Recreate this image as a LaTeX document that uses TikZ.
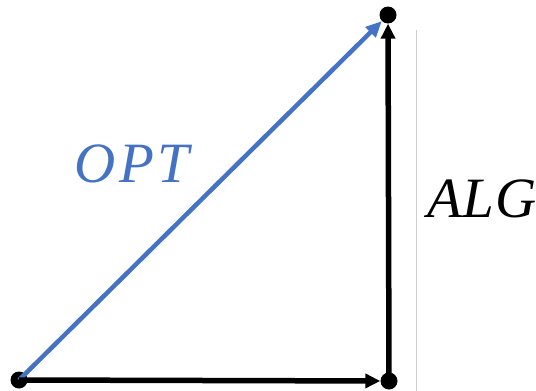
\documentclass[tikz,border=0pt]{standalone}
\usepackage{fontspec}
\setmainfont{Liberation Serif}
\usetikzlibrary{arrows.meta}
\definecolor{optblue}{HTML}{4472C4}
\definecolor{rulegray}{HTML}{D0D0D0}
\begin{document}
\begin{tikzpicture}[x=1pt,y=-1pt,
  dot/.style={circle,fill=black,inner sep=0pt,minimum size=17pt},
  blk/.style={line width=5.5pt,-{Triangle[length=15pt,width=14pt]}},
  blu/.style={line width=4.5pt,optblue,-{Triangle[length=16pt,width=14pt]}},
  lbl/.style={font=\itshape\fontsize{57}{60}\selectfont,anchor=base,inner sep=0pt}]
\useasboundingbox (0,0) rectangle (536,391);
\node[dot] (A) at (19,380) {};
\node[dot] (B) at (389,381) {};
\node[dot] (T) at (388,15) {};
\coordinate (G1) at (416.5,30);
\coordinate (G2) at (416.5,391);
\draw[rulegray,line width=1pt] (G1) -- (G2);
\draw[blu] (A.center) -- (T);
\draw[blk] (A.center) -- (B);
\draw[blk] (B.center) -- (T);
\node[lbl,optblue] (opt) at (132,182) {\addfontfeatures{LetterSpace=6}OPT};
\node[lbl] (alg) at (482,217) {\addfontfeatures{LetterSpace=2}ALG};
\end{tikzpicture}
\end{document}
